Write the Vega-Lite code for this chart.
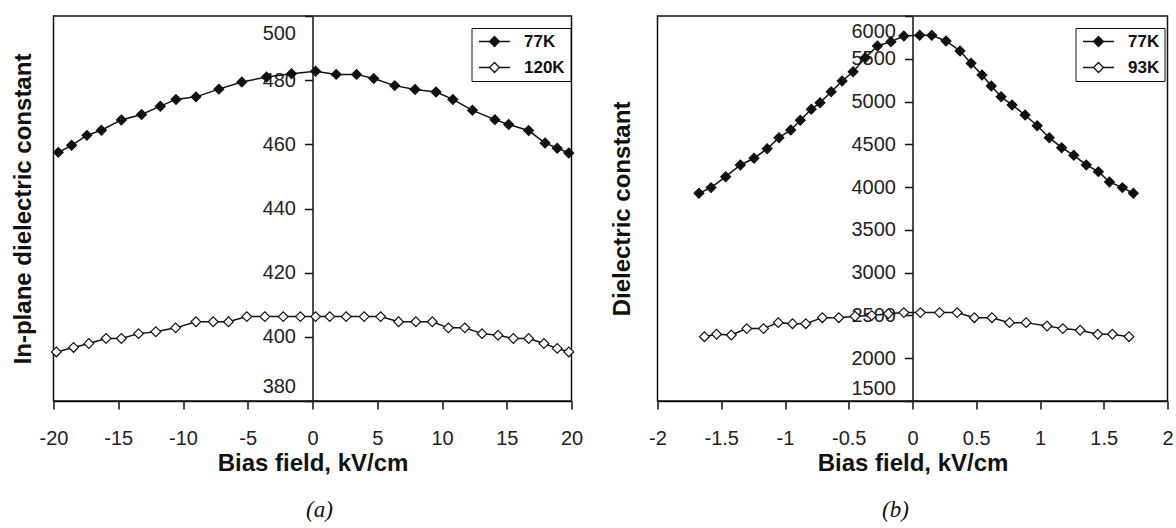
{
  "$schema": "https://vega.github.io/schema/vega-lite/v6.json",
  "background": "white",
  "padding": {"left": 10.5, "top": 14, "right": 5, "bottom": 5},
  "spacing": 86,
  "bounds": "flush",
  "resolve": {"scale": {"fill": "independent", "x": "independent", "y": "independent"}, "legend": {"fill": "independent"}},
  "config": {
    "font": "Liberation Sans",
    "view": {"stroke": "#111", "strokeWidth": 1.5},
    "axis": {
      "domainColor": "#111", "domainWidth": 1.5, "tickColor": "#111", "tickWidth": 1.5, "tickSize": 8,
      "labelFont": "Liberation Sans", "labelFontSize": 20, "labelColor": "#222",
      "titleFont": "Liberation Sans", "titleFontSize": 24, "titleFontWeight": "bold", "titleColor": "#111",
      "grid": false, "labelFlush": false, "labelOverlap": false
    },
    "legend": {
      "title": null, "orient": "none", "strokeColor": "#111", "fillColor": "white", "padding": 5,
      "symbolType": "M-3.1,0L-1,0M1,0L3.1,0M0,-1L1,0L0,1L-1,0Z", "symbolSize": 100,
      "symbolStrokeColor": "#111", "symbolStrokeWidth": 1.3, "symbolOffset": 9.5, "labelOffset": 21,
      "labelFont": "Liberation Sans", "labelFontSize": 17, "labelFontWeight": "bold", "labelColor": "#111",
      "rowPadding": 8
    }
  },
  "datasets": {
    "a": [
      {"T": "77K", "E": -19.63, "eps": 457.5}, {"T": "77K", "E": -18.6, "eps": 459.7}, {"T": "77K", "E": -17.42, "eps": 462.8},
      {"T": "77K", "E": -16.3, "eps": 464.4}, {"T": "77K", "E": -14.76, "eps": 467.6}, {"T": "77K", "E": -13.2, "eps": 469.3},
      {"T": "77K", "E": -11.75, "eps": 471.9}, {"T": "77K", "E": -10.54, "eps": 474.0}, {"T": "77K", "E": -9.0, "eps": 474.8},
      {"T": "77K", "E": -7.23, "eps": 477.2}, {"T": "77K", "E": -5.46, "eps": 479.4}, {"T": "77K", "E": -3.55, "eps": 481.0},
      {"T": "77K", "E": -1.62, "eps": 482.0}, {"T": "77K", "E": 0.24, "eps": 482.8}, {"T": "77K", "E": 1.83, "eps": 481.8},
      {"T": "77K", "E": 3.4, "eps": 481.8}, {"T": "77K", "E": 4.73, "eps": 480.5}, {"T": "77K", "E": 6.35, "eps": 478.3},
      {"T": "77K", "E": 7.92, "eps": 477.1}, {"T": "77K", "E": 9.54, "eps": 476.3}, {"T": "77K", "E": 10.84, "eps": 474.0},
      {"T": "77K", "E": 12.35, "eps": 470.6}, {"T": "77K", "E": 14.09, "eps": 467.7}, {"T": "77K", "E": 15.15, "eps": 466.2},
      {"T": "77K", "E": 16.69, "eps": 464.3}, {"T": "77K", "E": 17.96, "eps": 460.4}, {"T": "77K", "E": 18.9, "eps": 458.8},
      {"T": "77K", "E": 19.79, "eps": 457.3},
      {"T": "120K", "E": -19.78, "eps": 395.3}, {"T": "120K", "E": -18.45, "eps": 396.7}, {"T": "120K", "E": -17.27, "eps": 397.9},
      {"T": "120K", "E": -15.94, "eps": 399.5}, {"T": "120K", "E": -14.76, "eps": 399.5}, {"T": "120K", "E": -13.43, "eps": 401.0},
      {"T": "120K", "E": -12.1, "eps": 401.6}, {"T": "120K", "E": -10.57, "eps": 402.8}, {"T": "120K", "E": -9.0, "eps": 404.7},
      {"T": "120K", "E": -7.67, "eps": 404.7}, {"T": "120K", "E": -6.49, "eps": 404.7}, {"T": "120K", "E": -5.07, "eps": 406.3},
      {"T": "120K", "E": -3.68, "eps": 406.3}, {"T": "120K", "E": -2.26, "eps": 406.3}, {"T": "120K", "E": -0.94, "eps": 406.3},
      {"T": "120K", "E": 0.24, "eps": 406.3}, {"T": "120K", "E": 1.33, "eps": 406.3}, {"T": "120K", "E": 2.6, "eps": 406.3},
      {"T": "120K", "E": 3.99, "eps": 406.3}, {"T": "120K", "E": 5.26, "eps": 406.3}, {"T": "120K", "E": 6.65, "eps": 404.7},
      {"T": "120K", "E": 7.98, "eps": 404.7}, {"T": "120K", "E": 9.25, "eps": 404.7}, {"T": "120K", "E": 10.49, "eps": 402.8},
      {"T": "120K", "E": 11.76, "eps": 402.8}, {"T": "120K", "E": 13.09, "eps": 401.0}, {"T": "120K", "E": 14.33, "eps": 400.5},
      {"T": "120K", "E": 15.51, "eps": 399.5}, {"T": "120K", "E": 16.69, "eps": 399.5}, {"T": "120K", "E": 17.87, "eps": 397.9},
      {"T": "120K", "E": 18.9, "eps": 396.4}, {"T": "120K", "E": 19.79, "eps": 395.3}
    ],
    "b": [
      {"T": "77K", "E": -1.675, "eps": 3928}, {"T": "77K", "E": -1.58, "eps": 3994}, {"T": "77K", "E": -1.465, "eps": 4122},
      {"T": "77K", "E": -1.35, "eps": 4259}, {"T": "77K", "E": -1.243, "eps": 4337}, {"T": "77K", "E": -1.14, "eps": 4449},
      {"T": "77K", "E": -1.047, "eps": 4578}, {"T": "77K", "E": -0.955, "eps": 4668}, {"T": "77K", "E": -0.88, "eps": 4781},
      {"T": "77K", "E": -0.794, "eps": 4909}, {"T": "77K", "E": -0.725, "eps": 4987}, {"T": "77K", "E": -0.638, "eps": 5115},
      {"T": "77K", "E": -0.552, "eps": 5240}, {"T": "77K", "E": -0.466, "eps": 5349}, {"T": "77K", "E": -0.371, "eps": 5513},
      {"T": "77K", "E": -0.275, "eps": 5649}, {"T": "77K", "E": -0.169, "eps": 5700}, {"T": "77K", "E": -0.068, "eps": 5766},
      {"T": "77K", "E": 0.056, "eps": 5774}, {"T": "77K", "E": 0.151, "eps": 5774}, {"T": "77K", "E": 0.263, "eps": 5708},
      {"T": "77K", "E": 0.373, "eps": 5591}, {"T": "77K", "E": 0.459, "eps": 5447}, {"T": "77K", "E": 0.545, "eps": 5310},
      {"T": "77K", "E": 0.618, "eps": 5182}, {"T": "77K", "E": 0.695, "eps": 5057}, {"T": "77K", "E": 0.781, "eps": 4960},
      {"T": "77K", "E": 0.883, "eps": 4843}, {"T": "77K", "E": 0.978, "eps": 4718}, {"T": "77K", "E": 1.073, "eps": 4578},
      {"T": "77K", "E": 1.17, "eps": 4461}, {"T": "77K", "E": 1.265, "eps": 4372}, {"T": "77K", "E": 1.363, "eps": 4259},
      {"T": "77K", "E": 1.458, "eps": 4181}, {"T": "77K", "E": 1.545, "eps": 4060}, {"T": "77K", "E": 1.646, "eps": 3994},
      {"T": "77K", "E": 1.732, "eps": 3928},
      {"T": "93K", "E": -1.632, "eps": 2252}, {"T": "93K", "E": -1.537, "eps": 2280}, {"T": "93K", "E": -1.421, "eps": 2272},
      {"T": "93K", "E": -1.3, "eps": 2346}, {"T": "93K", "E": -1.168, "eps": 2346}, {"T": "93K", "E": -1.053, "eps": 2416},
      {"T": "93K", "E": -0.941, "eps": 2404}, {"T": "93K", "E": -0.837, "eps": 2404}, {"T": "93K", "E": -0.707, "eps": 2474},
      {"T": "93K", "E": -0.578, "eps": 2474}, {"T": "93K", "E": -0.45, "eps": 2490}, {"T": "93K", "E": -0.32, "eps": 2500},
      {"T": "93K", "E": -0.19, "eps": 2520}, {"T": "93K", "E": -0.068, "eps": 2533}, {"T": "93K", "E": 0.062, "eps": 2533},
      {"T": "93K", "E": 0.212, "eps": 2533}, {"T": "93K", "E": 0.35, "eps": 2533}, {"T": "93K", "E": 0.485, "eps": 2474},
      {"T": "93K", "E": 0.623, "eps": 2474}, {"T": "93K", "E": 0.761, "eps": 2416}, {"T": "93K", "E": 0.891, "eps": 2416},
      {"T": "93K", "E": 1.055, "eps": 2377}, {"T": "93K", "E": 1.179, "eps": 2346}, {"T": "93K", "E": 1.315, "eps": 2327},
      {"T": "93K", "E": 1.453, "eps": 2280}, {"T": "93K", "E": 1.568, "eps": 2280}, {"T": "93K", "E": 1.698, "eps": 2252}
    ]
  },
  "hconcat": [
    {
      "title": {"text": "(a)", "orient": "bottom", "anchor": "middle", "dx": 7, "offset": 24, "font": "Liberation Serif", "fontSize": 23, "fontStyle": "italic", "fontWeight": "normal", "color": "#111"},
      "width": 518,
      "height": 385,
      "data": {"name": "a"},
      "encoding": {
        "x": {
          "field": "E", "type": "quantitative",
          "scale": {"domain": [-20, 20], "nice": false, "zero": false},
          "axis": {
            "values": [-20, -15, -10, -5, 0, 5, 10, 15, 20], "format": "d",
            "labelExpr": "replace(datum.label, '\u2212', '-')",
            "labelPadding": 19, "title": "Bias field, kV/cm", "titleBaseline": "alphabetic", "titleY": 69
          }
        },
        "y": {
          "field": "eps", "type": "quantitative",
          "scale": {"domain": [380, 500], "nice": false, "zero": false},
          "axis": {
            "values": [380, 400, 420, 440, 460, 480, 500], "format": "d",
            "offset": -259, "labelPadding": 9,
            "labelOffset": {"expr": "datum.value == 500 ? 17 : datum.value == 380 ? -15 : 0"},
            "title": "In-plane dielectric constant", "titleX": -289, "titleBaseline": "middle"
          }
        }
      },
      "layer": [
        {
          "mark": {"type": "line", "color": "#111", "strokeWidth": 1.5},
          "encoding": {"detail": {"field": "T", "type": "nominal"}}
        },
        {
          "mark": {"type": "point", "shape": "diamond", "filled": true, "stroke": "#111", "strokeWidth": 1.2, "size": 95, "opacity": 1},
          "encoding": {
            "fill": {
              "field": "T", "type": "nominal",
              "scale": {"domain": ["77K", "120K"], "range": ["#111", "white"]},
              "legend": {"legendX": 418, "legendY": 12}
            }
          }
        }
      ]
    },
    {
      "title": {"text": "(b)", "orient": "bottom", "anchor": "middle", "dx": -17, "offset": 24, "font": "Liberation Serif", "fontSize": 23, "fontStyle": "italic", "fontWeight": "normal", "color": "#111"},
      "width": 510,
      "height": 385,
      "data": {"name": "b"},
      "encoding": {
        "x": {
          "field": "E", "type": "quantitative",
          "scale": {"domain": [-2, 2], "nice": false, "zero": false},
          "axis": {
            "values": [-2, -1.5, -1, -0.5, 0, 0.5, 1, 1.5, 2], "format": "~g",
            "labelExpr": "replace(datum.label, '\u2212', '-')",
            "labelPadding": 19, "title": "Bias field, kV/cm", "titleBaseline": "alphabetic", "titleY": 69
          }
        },
        "y": {
          "field": "eps", "type": "quantitative",
          "scale": {"domain": [1500, 6000], "nice": false, "zero": false},
          "axis": {
            "values": [1500, 2000, 2500, 3000, 3500, 4000, 4500, 5000, 5500, 6000], "format": "d",
            "offset": -255, "labelPadding": 9,
            "labelOffset": {"expr": "datum.value == 6000 ? 15 : datum.value == 1500 ? -13 : 0"},
            "title": "Dielectric constant", "titleX": -290, "titleBaseline": "middle"
          }
        }
      },
      "layer": [
        {
          "mark": {"type": "line", "color": "#111", "strokeWidth": 1.5},
          "encoding": {"detail": {"field": "T", "type": "nominal"}}
        },
        {
          "mark": {"type": "point", "shape": "diamond", "filled": true, "stroke": "#111", "strokeWidth": 1.2, "size": 95, "opacity": 1},
          "encoding": {
            "fill": {
              "field": "T", "type": "nominal",
              "scale": {"domain": ["77K", "93K"], "range": ["#111", "white"]},
              "legend": {"legendX": 418, "legendY": 12}
            }
          }
        }
      ]
    }
  ]
}
